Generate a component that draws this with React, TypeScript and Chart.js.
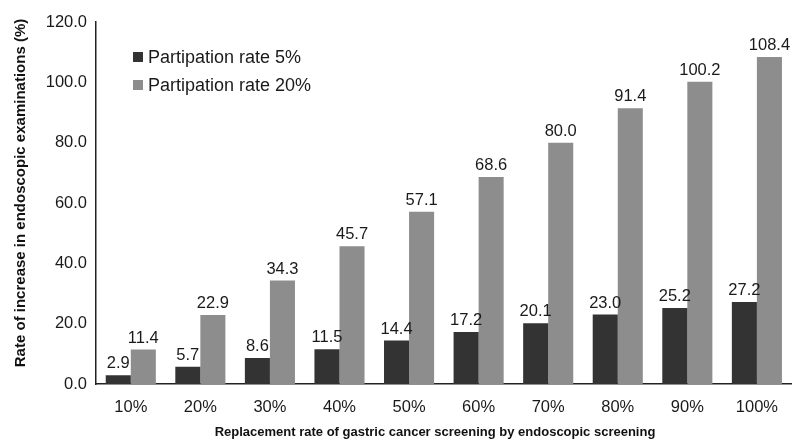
import React, { useEffect, useRef } from "react";
import { Chart, registerables } from "chart.js";

Chart.register(...registerables);

const categories = ["10%", "20%", "30%", "40%", "50%", "60%", "70%", "80%", "90%", "100%"];
const rate5 = [2.9, 5.7, 8.6, 11.5, 14.4, 17.2, 20.1, 23.0, 25.2, 27.2];
const rate20 = [11.4, 22.9, 34.3, 45.7, 57.1, 68.6, 80.0, 91.4, 100.2, 108.4];
const seriesNames = ["Partipation rate 5%", "Partipation rate 20%"];
const seriesColors = ["#333333", "#8d8d8d"];
const yTitle = "Rate of increase in endoscopic examinations (%)";
const xTitle = "Replacement rate of gastric cancer screening by endoscopic screening";

const FONT = "'Liberation Sans', Arial, Helvetica, sans-serif";

const labelPlugin = {
  id: "barLabels",
  afterDatasetsDraw(chart: any) {
    const ctx = chart.ctx;
    ctx.save();
    ctx.font = `16.5px ${FONT}`;
    ctx.fillStyle = "#1a1a1a";
    ctx.textAlign = "center";
    ctx.textBaseline = "alphabetic";
    chart.data.datasets.forEach((ds: any, i: number) => {
      const meta = chart.getDatasetMeta(i);
      meta.data.forEach((bar: any, j: number) => {
        ctx.fillText(Number(ds.data[j]).toFixed(1), bar.x, bar.y - 7);
      });
    });
    ctx.restore();
  },
};

const legendPlugin = {
  id: "customLegend",
  afterDraw(chart: any) {
    const ctx = chart.ctx;
    ctx.save();
    ctx.font = `18px ${FONT}`;
    ctx.textBaseline = "middle";
    ctx.textAlign = "left";
    chart.data.datasets.forEach((ds: any, i: number) => {
      const y = 57 + i * 28;
      ctx.fillStyle = ds.backgroundColor;
      ctx.fillRect(133, y - 5, 10, 10);
      ctx.fillStyle = "#1a1a1a";
      ctx.fillText(ds.label, 148, y + 1);
    });
    ctx.restore();
  },
};

const titlePlugin = {
  id: "axisTitles",
  afterDraw(chart: any) {
    const ctx = chart.ctx;
    ctx.save();
    ctx.fillStyle = "#111";
    ctx.textAlign = "center";
    ctx.textBaseline = "middle";
    ctx.font = `bold 13px ${FONT}`;
    ctx.fillText(xTitle, 435, 432);
    ctx.translate(21, 193);
    ctx.rotate(-Math.PI / 2);
    ctx.font = `bold 15px ${FONT}`;
    ctx.fillText(yTitle, 0, 0);
    ctx.restore();
  },
};

export default function App() {
  const ref = useRef<HTMLCanvasElement>(null);
  useEffect(() => {
    document.body.style.margin = "0";
    const chart = new Chart(ref.current!, {
      type: "bar",
      data: {
        labels: categories,
        datasets: [
          { label: seriesNames[0], data: rate5, backgroundColor: seriesColors[0] },
          { label: seriesNames[1], data: rate20, backgroundColor: seriesColors[1] },
        ],
      },
      options: {
        animation: false,
        responsive: false,
        devicePixelRatio: 1,
        layout: { padding: { top: 22, right: 0, left: 0, bottom: 0 } },
        datasets: { bar: { categoryPercentage: 0.72, barPercentage: 1.0 } },
        plugins: { legend: { display: false }, tooltip: { enabled: false } },
        scales: {
          x: {
            grid: { display: false, drawTicks: false },
            border: { display: true, color: "#222", width: 1.5 },
            ticks: { color: "#1a1a1a", font: { family: FONT, size: 16.5 }, padding: 14 },
            afterFit(scale: any) {
              scale.height = 57;
            },
          },
          y: {
            min: 0,
            max: 120,
            grid: { display: false, drawTicks: false },
            border: { display: true, color: "#222", width: 1.5 },
            ticks: {
              stepSize: 20,
              color: "#1a1a1a",
              font: { family: FONT, size: 16.5 },
              padding: 9,
              callback: (v: any) => Number(v).toFixed(1),
            },
            afterFit(scale: any) {
              scale.width = 96;
            },
          },
        },
      },
      plugins: [labelPlugin, legendPlugin, titlePlugin],
    });
    return () => chart.destroy();
  }, []);
  return <canvas ref={ref} width={792} height={441} style={{ display: "block" }} />;
}
